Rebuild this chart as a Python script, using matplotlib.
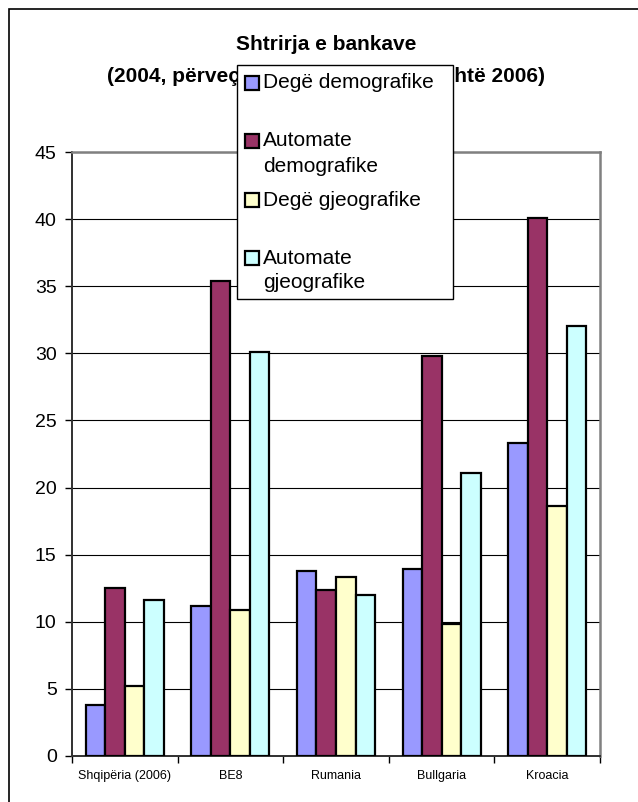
import matplotlib
matplotlib.use("Agg")
import matplotlib.pyplot as plt
from matplotlib.patches import Rectangle
import numpy as np

plt.rcParams['font.family'] = ['Liberation Sans', 'DejaVu Sans']

countries = ["Shqipëria (2006)", "BE8", "Rumania", "Bullgaria", "Kroacia"]
series_names = ["Degë demografike", "Automate\ndemografike",
                "Degë gjeografike", "Automate\ngjeografike"]
dege_demo = [3.8, 11.2, 13.8, 13.9, 23.3]
automate_demo = [12.5, 35.4, 12.4, 29.8, 40.1]
dege_gjeo = [5.2, 10.9, 13.3, 9.8, 18.6]
automate_gjeo = [11.6, 30.1, 12.0, 21.1, 32.0]
colors = ["#9999FF", "#993366", "#FFFFCC", "#CCFFFF"]

W, H = 638, 802
fig = plt.figure(figsize=(W / 100, H / 100), dpi=100)


def fx(px):
    return px / W


def fy(py):
    return 1 - py / H


# outer chart border
fig.add_artist(Rectangle((fx(9), fy(H + 20)), fx(W + 20), (H + 11) / H,
                         transform=fig.transFigure, fill=False,
                         edgecolor="black", lw=1.2, zorder=1))

ax = fig.add_axes([fx(72), fy(756), fx(600 - 72), (756 - 152) / H])
x = np.arange(len(countries))
bw = 0.185
all_series = [dege_demo, automate_demo, dege_gjeo, automate_gjeo]
for i, vals in enumerate(all_series):
    ax.bar(x + (i - 1.5) * bw, vals, bw, color=colors[i],
           edgecolor="black", linewidth=1.6, zorder=3)

ax.set_xlim(-0.5, len(countries) - 0.5)
ax.set_ylim(0, 45)
ax.set_yticks(np.arange(0, 46, 5))
ax.yaxis.grid(True, color="black", lw=0.8, zorder=0)
ax.set_axisbelow(True)
ax.tick_params(axis="y", labelsize=14, length=5, width=1, pad=6)
ax.set_xticks(x)
ax.set_xticklabels(countries, fontsize=9)
ax.set_xticks(np.arange(-0.5, len(countries)), minor=True)
ax.tick_params(axis="x", which="major", length=0, pad=10)
ax.tick_params(axis="x", which="minor", length=5, width=1)
for s in ["top", "right"]:
    ax.spines[s].set_color("#808080")
    ax.spines[s].set_linewidth(1.8)
ax.spines["left"].set_linewidth(1.4)
ax.spines["left"].set_color("#303030")
ax.spines["bottom"].set_linewidth(1.4)
ax.spines["bottom"].set_color("#303030")

fig.text(fx(326), fy(45), "Shtrirja e bankave", ha="center", va="center",
         fontsize=15, fontweight="bold")
fig.text(fx(326), fy(76), "(2004, përveç Shqipërisë, ku viti është 2006)",
         ha="center", va="center", fontsize=15, fontweight="bold")

# legend box, entries stacked in equal slots
fig.add_artist(Rectangle((fx(237), fy(299)), fx(453 - 237), (299 - 65) / H,
                         transform=fig.transFigure, facecolor="white",
                         edgecolor="black", lw=1, zorder=10))
entry_y = [83, 141, 200, 258]
for name, col, ey in zip(series_names, colors, entry_y):
    fig.add_artist(Rectangle((fx(245), fy(ey + 7)), fx(14), 14 / H,
                             transform=fig.transFigure, facecolor=col,
                             edgecolor="black", lw=1.6, zorder=11))
    for k, line in enumerate(name.split("\n")):
        fig.text(fx(263), fy(ey + 25 * k), line, ha="left", va="center",
                 fontsize=15, zorder=12)

fig.savefig("out.png", dpi=100)
